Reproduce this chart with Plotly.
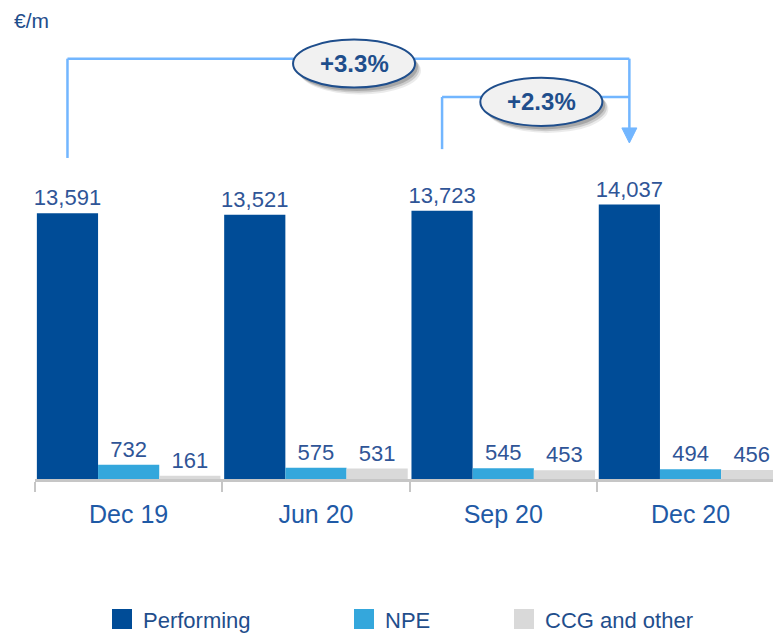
import plotly.graph_objects as go

categories = ["Dec 19", "Jun 20", "Sep 20", "Dec 20"]
performing = [13591, 13521, 13723, 14037]
npe = [732, 575, 545, 494]
ccg = [161, 531, 453, 456]
series_names = ["Performing", "NPE", "CCG and other"]
series_colors = ["#004C97", "#34A7DC", "#D9D9D9"]
unit_label = "€/m"
# growth brackets: (from index, to index, bracket level, gap above start bar)
growth = [(0, 3, 21500, 2830), (2, 3, 19540, 3150)]

FONT = "Liberation Sans, Arial, sans-serif"
x = list(range(len(categories)))
bargap = 0.02
bw = (1 - bargap) / 3
perf_off = -bw

# page offset (browser body margin) compensation
OFF = 8
PL, PR, PB = 35, 781, 479   # plot area edges in page pixels
PT = OFF
PW = PR - PL
PH = PB - PT


def px(xp):
    return (xp - PL) / PW


def py(yp):
    return (PB - yp) / PH


fig = go.Figure()
for name, vals, col in zip(series_names, [performing, npe, ccg], series_colors):
    fig.add_trace(go.Bar(
        x=x, y=vals, name=name, marker=dict(color=col, line=dict(width=0)),
        texttemplate="%{y:,}", textposition="outside", constraintext="none",
        textfont=dict(family=FONT, size=22, color="#2F5597"),
        cliponaxis=False, showlegend=False,
    ))

shapes = []
annotations = []
line_col = "#72B6FF"
for (i0, i1, lvl, gap) in growth:
    xl = i0 + perf_off
    xr = i1 + perf_off
    y_left_bottom = performing[i0] + gap
    shapes.append(dict(type="line", xref="x", yref="y", x0=xl, x1=xl, y0=y_left_bottom, y1=lvl,
                       line=dict(color=line_col, width=2.5), layer="above"))
    shapes.append(dict(type="line", xref="x", yref="y", x0=xl, x1=xr, y0=lvl, y1=lvl,
                       line=dict(color=line_col, width=2.5), layer="above"))
# shared right vertical with arrow
i_to = growth[0][1]
xr = i_to + perf_off
tip = performing[i_to] + 3150
base = tip + 770
shapes.append(dict(type="line", xref="x", yref="y", x0=xr, x1=xr, y0=growth[0][2], y1=base,
                   line=dict(color=line_col, width=2.5), layer="above"))
hw = 0.04
shapes.append(dict(type="path", xref="x", yref="y",
                   path=f"M {xr-hw},{base} L {xr+hw},{base} L {xr},{tip} Z",
                   fillcolor=line_col, line=dict(color=line_col, width=1), layer="above"))

ex = 0.3257
ey = 1228
for (i0, i1, lvl, gap) in growth:
    cx = (i0 + i1) / 2 + perf_off + 0.03
    cy = lvl - 250
    pct = (performing[i1] / performing[i0] - 1) * 100
    for (dx, dy, a) in [(0.032, -360, 0.10), (0.024, -270, 0.18), (0.015, -180, 0.25)]:
        shapes.append(dict(type="circle", xref="x", yref="y",
                           x0=cx - ex + dx, x1=cx + ex + dx, y0=cy - ey + dy, y1=cy + ey + dy,
                           fillcolor=f"rgba(60,60,60,{a})", line=dict(width=0), layer="above"))
    shapes.append(dict(type="circle", xref="x", yref="y",
                       x0=cx - ex, x1=cx + ex, y0=cy - ey, y1=cy + ey,
                       fillcolor="#F1F1F1", line=dict(color="#1F4E8C", width=2), layer="above"))
    annotations.append(dict(x=cx, y=cy, xref="x", yref="y", text=f"<b>+{pct:.1f}%</b>",
                            showarrow=False, font=dict(family=FONT, size=24, color="#1F4E8C")))

annotations.append(dict(x=px(12), y=py(21), xref="paper", yref="paper", text=unit_label,
                        xanchor="left", yanchor="middle", showarrow=False,
                        font=dict(family=FONT, size=21, color="#1F4E8C")))

# legend (manual)
leg_x_px = [112, 354, 514]
leg_y_px = 619
for name, col, lx in zip(series_names, series_colors, leg_x_px):
    shapes.append(dict(type="rect", xref="paper", yref="paper",
                       x0=px(lx), x1=px(lx + 20), y0=py(leg_y_px + 10), y1=py(leg_y_px - 10),
                       fillcolor=col, line=dict(width=0)))
    annotations.append(dict(x=px(lx + 29), y=py(leg_y_px + 1), xref="paper", yref="paper",
                            text=name, xanchor="left", yanchor="middle", showarrow=False,
                            font=dict(family=FONT, size=22, color="#1F4E8C")))

fig.update_layout(
    width=781 - OFF, height=634 - OFF,
    margin=dict(l=PL - OFF, r=0, t=PT - OFF, b=634 - PB),
    paper_bgcolor="white", plot_bgcolor="white",
    barmode="group", bargap=bargap, bargroupgap=0,
    shapes=shapes, annotations=annotations,
    xaxis=dict(range=[-0.5, -0.5 + PW / 187.3], tickmode="array", tickvals=x, ticktext=categories,
               ticks="", showgrid=False, zeroline=False, ticklabelstandoff=11,
               showline=True, linecolor="#C6C6C6", linewidth=3,
               tickfont=dict(family=FONT, size=25, color="#1F5AA6"),
               minor=dict(tickmode="array", tickvals=[i - 0.5 for i in x], ticks="outside",
                          ticklen=10, tickwidth=2, tickcolor="#C6C6C6", showgrid=False)),
    yaxis=dict(range=[0, PH / 0.01955], visible=False),
)

fig.write_html("out.html")
